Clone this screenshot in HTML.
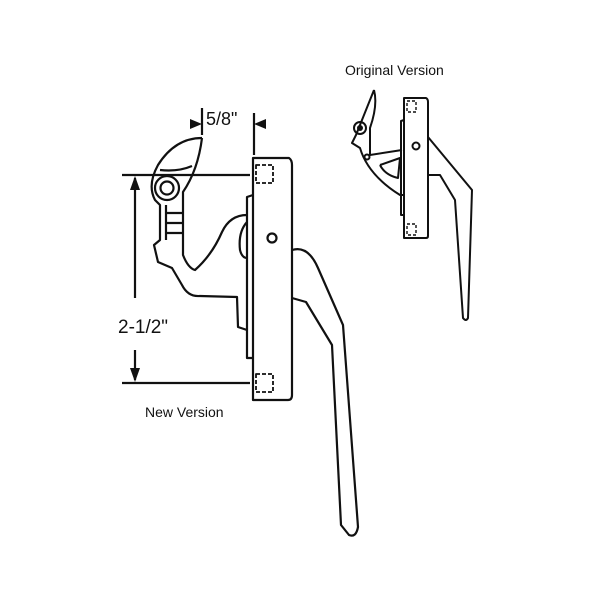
<!DOCTYPE html>
<html><head><style>body{margin:0;background:#fff}svg{display:block}text{font-family:"Liberation Sans",Arial,sans-serif;fill:#111}</style></head>
<body>
<svg width="600" height="600" viewBox="0 0 600 600" xmlns="http://www.w3.org/2000/svg">
<g fill="none" stroke="#111" stroke-width="2.2" stroke-linejoin="round">
<!-- main body -->
<path d="M253 158 L289 158 Q292 160 292 165 L292 395 Q292 400 288 400 L253 400 Z"/>
<rect x="256" y="165" width="17" height="18" stroke-dasharray="4 2" stroke-width="1.8"/>
<rect x="256" y="374" width="17" height="18" stroke-dasharray="4 2" stroke-width="1.8"/>
<circle cx="272" cy="238" r="4.5"/>
<path d="M253 195 L247 197 L247 358 L253 358"/>
<!-- handle -->
<path d="M292 250 Q308 245 318 268 L343 325 L358 527 Q356 538 349 535 L341 525 L332 345 L306 302 L292 298"/>
<!-- latch -->
<path d="M202 138 Q175 138 158 165 Q147 185 155 200 L160 205 L160 240 L154 245 L158 262 L172 268 L182 285 Q188 297 200 296 L237 297 L238 327 L247 330"/>
<path d="M202 138 Q198 170 183 192 L183 255 Q188 268 195 270 Q212 255 222 232 Q230 215 247 215"/>
<path d="M166 213 L183 213 M166 223 L183 223 M166 233 L183 233 M166 205 L166 240"/>
<path d="M160 170 Q178 172 192 166"/>
<path d="M247 222 Q238 232 240 250 Q242 258 247 258"/>
<circle cx="167" cy="188" r="12"/>
<circle cx="167" cy="188" r="6.5"/>
<!-- dimension lines -->
<path d="M122 175 L250 175 M122 383 L250 383 M135 178 L135 298 M135 350 L135 380 M202 108 L202 135 M254 113 L254 155"/>
</g>
<g fill="#111">
<polygon points="135,176 130,190 140,190"/>
<polygon points="135,382 130,368 140,368"/>
<polygon points="202,124 190,119 190,129"/>
<polygon points="254,124 266,119 266,129"/>
</g>
<text x="206" y="125" font-size="18">5/8"</text>
<text x="118" y="333" font-size="19">2-1/2"</text>
<text x="145" y="417" font-size="14">New Version</text>
<text x="345" y="75" font-size="14">Original Version</text>
<!-- original version -->
<g fill="none" stroke="#111" stroke-width="2" stroke-linejoin="round">
<path d="M404 98 L426 98 Q428 99 428 102 L428 236 Q428 238 426 238 L404 238 Z"/>
<rect x="407" y="101" width="9" height="11" stroke-dasharray="3 2" stroke-width="1.4"/>
<rect x="407" y="224" width="9" height="11" stroke-dasharray="3 2" stroke-width="1.4"/>
<circle cx="416" cy="146" r="3.5"/>
<path d="M404 120 L401 121 L401 215 L404 215"/>
<path d="M428 137 L472 190 L468 318 Q466 322 463 318 L455 200 L440 175 L428 175"/>
<path d="M374 90 L356 135 L352 143 L360 148 Q368 175 400 195 L404 195 M374 90 Q378 105 370 128 L370 155 L402 150 M380 165 L400 158 L398 178 Q385 175 380 165"/>
<circle cx="360" cy="128" r="6"/>
<circle cx="367" cy="157" r="2.5"/>
</g>
<circle cx="360" cy="128" r="3" fill="#111"/>
</svg>
</body></html>
